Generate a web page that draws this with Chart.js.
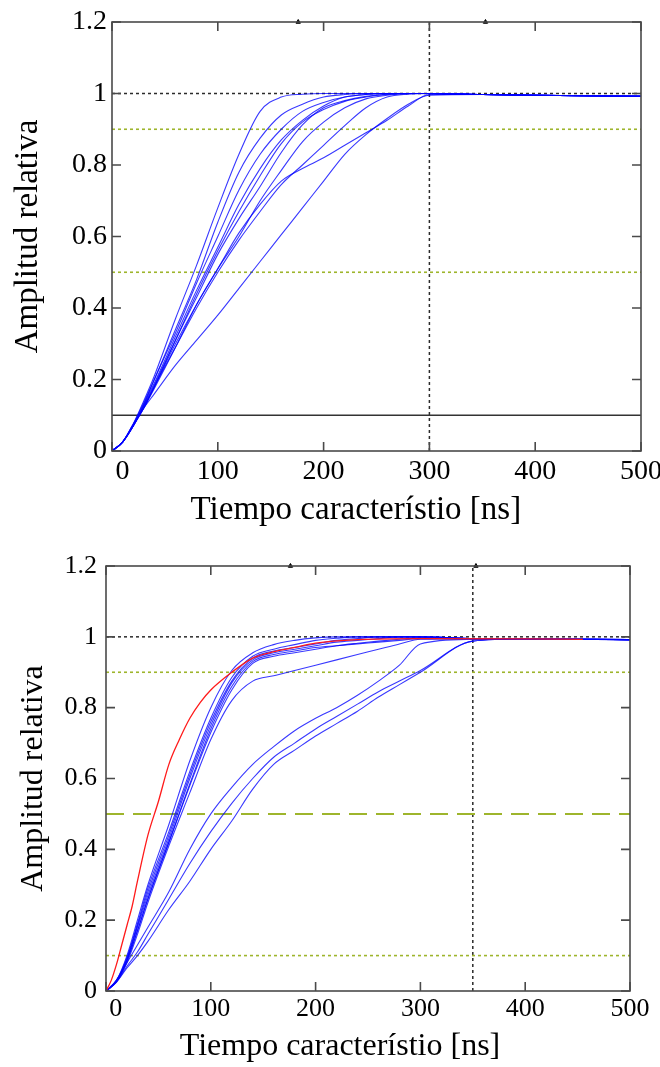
<!DOCTYPE html>
<html>
<head>
<meta charset="utf-8">
<script src="https://cdn.jsdelivr.net/npm/chart.js@4.4.1/dist/chart.umd.min.js"></script>
<style>
  html, body { margin: 0; padding: 0; background: #fff; }
  canvas { position: absolute; left: 0; }
  #graficoArriba { top: 0; }
  #graficoAbajo { top: 533px; }
</style>
</head>
<body>
<canvas id="graficoArriba" width="660" height="533"></canvas>
<canvas id="graficoAbajo" width="660" height="534"></canvas>
<script>
// eje de tiempo comun (ns) para todas las curvas azules
const tiempo = [0, 10, 20, 30, 40, 60, 80, 100, 120, 140, 160, 180, 200, 220, 240, 260, 280, 300, 350, 400, 500];
const ticksX = [0, 100, 200, 300, 400, 500];
const ticksY = [0, 0.2, 0.4, 0.6, 0.8, 1, 1.2];

// grafico de arriba
const curvasArriba = [
  [0, .025, .075, .14, .21, .37, .52, .68, .83, .95, .99, .998, 1, 1, 1, 1, 1, 1, .997, .995, .992],
  [0, .025, .075, .135, .2, .34, .48, .64, .78, .875, .94, .97, .99, .997, 1, 1, 1, 1, .997, .995, .992],
  [0, .025, .07, .13, .19, .32, .45, .57, .69, .79, .87, .925, .965, .99, .997, 1, 1, 1, .997, .995, .992],
  [0, .025, .07, .125, .18, .31, .43, .55, .65, .74, .835, .912, .96, .98, .992, .998, 1, 1, .997, .995, .992],
  [0, .025, .07, .12, .175, .29, .41, .51, .6, .7, .785, .865, .92, .96, .985, .995, 1, 1, .997, .995, .992],
  [0, .025, .07, .13, .2, .33, .47, .6, .73, .83, .9, .95, .975, .99, .997, 1, 1, 1, .997, .995, .992],
  [0, .025, .07, .125, .185, .31, .44, .56, .67, .77, .86, .92, .955, .978, .99, .997, 1, 1, .997, .995, .992],
  [0, .025, .07, .12, .18, .3, .41, .51, .61, .69, .755, .79, .82, .855, .89, .925, .965, .997, .997, .995, .992],
  [0, .025, .07, .12, .18, .29, .4, .5, .59, .67, .745, .8, .855, .91, .96, .99, .998, 1, .997, .995, .992],
  [0, .025, .075, .12, .16, .24, .31, .38, .455, .53, .605, .68, .755, .83, .885, .93, .97, .995, .997, .995, .992]
];
const nivelesArriba = [1, 0.9, 0.5, 0.1];
const corteArriba = 300;

// grafico de abajo
const curvasAbajo = [
  [0, .03, .1, .2, .3, .47, .65, .8, .905, .955, .978, .99, .997, 1, 1, 1, 1, 1, .995, .994, .992],
  [0, .03, .095, .19, .29, .45, .62, .77, .885, .945, .965, .978, .99, .996, 1, 1, 1, 1, .995, .994, .992],
  [0, .028, .09, .18, .27, .43, .6, .75, .87, .935, .955, .965, .975, .985, .99, .995, 1, 1, .995, .994, .992],
  [0, .027, .085, .17, .26, .42, .58, .73, .85, .925, .945, .955, .965, .975, .982, .988, .993, .997, .995, .994, .992],
  [0, .026, .08, .16, .25, .41, .56, .71, .82, .875, .89, .905, .92, .935, .95, .965, .98, .993, .995, .994, .992],
  [0, .03, .09, .185, .28, .44, .61, .76, .875, .94, .96, .97, .98, .99, .995, 1, 1, 1, .995, .994, .992],
  [0, .027, .085, .17, .26, .42, .585, .74, .86, .93, .95, .96, .97, .975, .98, .985, .99, .995, .995, .994, .992],
  [0, .03, .08, .13, .18, .28, .4, .5, .575, .64, .69, .735, .77, .8, .835, .875, .92, .98, .993, .994, .992],
  [0, .025, .07, .11, .16, .26, .36, .45, .53, .6, .66, .7, .74, .775, .81, .845, .875, .905, .988, .994, .992],
  [0, .025, .065, .1, .14, .23, .31, .4, .48, .57, .64, .68, .72, .755, .79, .83, .865, .9, .988, .994, .992]
];
const tiempoRojo = [0, 5, 10, 15, 20, 25, 30, 40, 50, 60, 70, 80, 90, 100, 120, 140, 160, 180, 200, 240, 300, 400, 455];
const amplitudRoja = [0, .03, .075, .13, .185, .24, .31, .44, .535, .64, .71, .77, .815, .85, .9, .94, .958, .97, .982, .992, .995, .994, .993];
const nivelesAbajo = [1, 0.9, 0.5, 0.1];
const corteAbajo = 350;

// marquitas negras sobre el borde superior
const marcasX = [176, 353];

const FUENTE = 'Liberation Serif';
const AZUL = 'rgba(0, 0, 255, 0.78)';
const OLIVA = '#9eb52c';
const NEGRO_PUNTOS = '#2b2b2b';

const estilos = {
  negroPunteado: { borderColor: NEGRO_PUNTOS, borderWidth: 1.5, borderDash: [3, 3] },
  negroSolido: { borderColor: '#333', borderWidth: 1.5, borderDash: [] },
  olivaPunteado: { borderColor: OLIVA, borderWidth: 1.6, borderDash: [3, 3] },
  olivaRayado: { borderColor: OLIVA, borderWidth: 2, borderDash: [18, 9] }
};

const marco = {
  id: 'marco',
  afterDatasetsDraw(chart) {
    const { ctx, chartArea: a, scales } = chart;
    const largo = 9;
    ctx.save();
    ctx.strokeStyle = '#4a4a4a';
    ctx.lineWidth = 1.6;
    ctx.strokeRect(a.left, a.top, a.right - a.left, a.bottom - a.top);
    ctx.beginPath();
    scales.x.ticks.forEach(t => {
      const px = scales.x.getPixelForValue(t.value);
      ctx.moveTo(px, a.bottom); ctx.lineTo(px, a.bottom - largo);
      ctx.moveTo(px, a.top); ctx.lineTo(px, a.top + largo);
    });
    scales.y.ticks.forEach(t => {
      const py = scales.y.getPixelForValue(t.value);
      ctx.moveTo(a.left, py); ctx.lineTo(a.left + largo, py);
      ctx.moveTo(a.right, py); ctx.lineTo(a.right - largo, py);
    });
    ctx.stroke();
    ctx.restore();
  }
};

function linea(puntos, estilo, orden) {
  return Object.assign({ data: puntos, pointRadius: 0, fill: false, order: orden, tension: 0 }, estilo);
}

function armar(id, o) {
  const ds = [];
  if (o.roja) {
    ds.push({
      data: o.roja.x.map((x, i) => ({ x, y: o.roja.y[i] })),
      borderColor: '#ff1a1a', borderWidth: 1.3, pointRadius: 0,
      cubicInterpolationMode: 'monotone', order: 0
    });
  }
  o.curvas.forEach(c => {
    ds.push({
      data: tiempo.map((x, i) => ({ x, y: c[i] })),
      borderColor: AZUL, borderWidth: 1.1, pointRadius: 0,
      cubicInterpolationMode: 'monotone', order: 1
    });
  });
  o.niveles.forEach((n, i) => {
    ds.push(linea([{ x: 0, y: n }, { x: 500, y: n }], o.estilosNiveles[i], 2));
  });
  ds.push(linea([{ x: o.corte, y: 0 }, { x: o.corte, y: 1.2 }], estilos.negroPunteado, 2));
  ds.push({
    type: 'scatter', data: marcasX.map(x => ({ x, y: 1.2 })), pointStyle: 'triangle',
    pointRadius: 2.5, backgroundColor: '#000', borderColor: '#000', clip: false, order: 0
  });

  return new Chart(document.getElementById(id), {
    type: 'line',
    data: { datasets: ds },
    options: {
      responsive: false,
      animation: false,
      events: [],
      layout: { padding: { top: o.area.top, right: o.area.right, left: 0, bottom: 0 } },
      plugins: { legend: { display: false }, tooltip: { enabled: false } },
      scales: {
        x: {
          type: 'linear', min: 0, max: 500,
          afterBuildTicks: s => { s.ticks = ticksX.map(v => ({ value: v })); },
          ticks: {
            font: { family: FUENTE, size: o.tamTicks }, color: '#000', padding: o.padX,
            maxRotation: 0, autoSkip: false,
            callback: v => v === 0 ? '   0' : String(v)
          },
          grid: { display: false, drawTicks: false },
          border: { display: false },
          title: {
            display: true, text: o.tituloX, color: '#000',
            font: { family: FUENTE, size: o.tamTitulo, lineHeight: 1 },
            padding: { top: 0, bottom: o.padTituloX }
          },
          afterFit: s => { s.height = o.altoX; s.paddingLeft = 0; s.paddingRight = 0; }
        },
        y: {
          min: 0, max: 1.2,
          afterBuildTicks: s => { s.ticks = ticksY.map(v => ({ value: v })); },
          ticks: {
            font: { family: FUENTE, size: o.tamTicks }, color: '#000', padding: o.padY,
            callback: v => (v === 0 || v === 1) ? String(v) : v.toFixed(1)
          },
          grid: { display: false, drawTicks: false },
          border: { display: false },
          title: {
            display: true, text: 'Amplitud relativa', color: '#000',
            font: { family: FUENTE, size: o.tamTitulo, lineHeight: 1 },
            padding: { top: o.padTituloY, bottom: 0 }
          },
          afterFit: s => { s.width = o.anchoY; s.paddingTop = 0; s.paddingBottom = 0; }
        }
      }
    },
    plugins: [marco]
  });
}

// los espacios finales corren el titulo hacia la izquierda como en el original
armar('graficoArriba', {
  curvas: curvasArriba,
  niveles: nivelesArriba,
  estilosNiveles: [estilos.negroPunteado, estilos.olivaPunteado, estilos.olivaPunteado, estilos.negroSolido],
  corte: corteArriba,
  tituloX: 'Tiempo característio [ns]     ',
  area: { top: 22, right: 19 },
  anchoY: 112, altoX: 82,
  tamTicks: 28, tamTitulo: 33,
  padX: 4, padY: 5, padTituloX: 6, padTituloY: 12
});

armar('graficoAbajo', {
  curvas: curvasAbajo,
  roja: { x: tiempoRojo, y: amplitudRoja },
  niveles: nivelesAbajo,
  estilosNiveles: [estilos.negroPunteado, estilos.olivaPunteado, estilos.olivaRayado, estilos.olivaPunteado],
  corte: corteAbajo,
  tituloX: 'Tiempo característio [ns]       ',
  area: { top: 33, right: 30 },
  anchoY: 106, altoX: 76,
  tamTicks: 26, tamTitulo: 32,
  padX: 3, padY: 9, padTituloX: 4, padTituloY: 18
});
</script>
</body>
</html>
